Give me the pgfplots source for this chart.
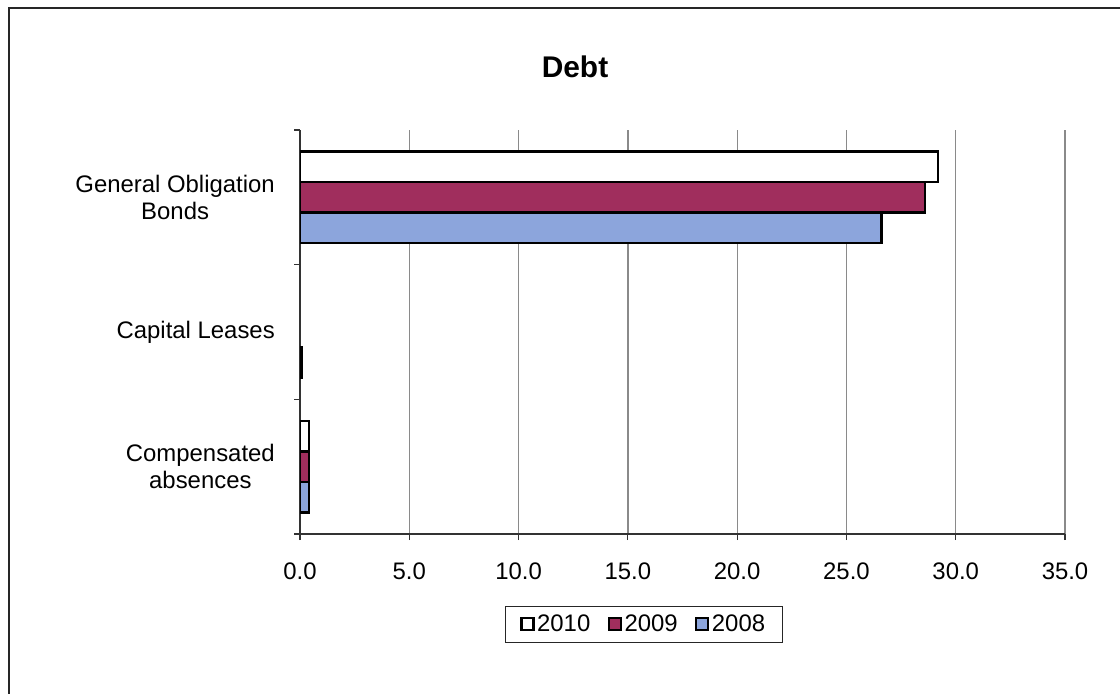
\documentclass[border=0pt]{standalone}
\usepackage{pgfplots}
\pgfplotsset{compat=1.18}
\usepackage{fontspec}
\setmainfont{Liberation Sans}

\definecolor{bar2009}{HTML}{A02E5D}
\definecolor{bar2008}{HTML}{8CA5DC}
\definecolor{gridgray}{HTML}{8A8A8A}

\begin{document}
\begin{tikzpicture}[x=1bp,y=1bp]
\useasboundingbox (0,0) rectangle (1120,-694);
% page frame (top and left edges)
\draw[line width=2bp, black!85] (9,-694) -- (9,-8.5) -- (1120,-8.5);

\node[anchor=base, font=\fontsize{30}{36}\selectfont\bfseries] at (575,-78) {Debt};

\begin{axis}[
  at={(300bp,-534bp)}, anchor=south west,
  scale only axis, width=765bp, height=404bp,
  xmin=0, xmax=35, ymin=-0.5, ymax=2.5,
  xbar, bar width=0.225,
  axis x line*=bottom, axis y line*=left,
  axis line style={line width=1.3bp, black!80},
  xtick={0,5,...,35},
  xmajorgrids, grid style={gridgray, line width=1.3bp},
  ytick={0,1,2},
  yticklabels={Compensated\\absences, Capital Leases, General Obligation\\Bonds},
  minor ytick={-0.5,0.5,1.5,2.5},
  tick align=outside, major tick length=6bp, minor tick length=6bp,
  every major y tick/.append style={draw=none},
  tick style={line width=1.2bp, black!80},
  /pgf/number format/.cd, fixed, fixed zerofill, precision=1, assume math mode=true,
  /pgfplots/.cd,
  xticklabel style={font=\fontsize{24}{28}\selectfont, inner sep=0bp, yshift=-23bp},
  yticklabel style={font=\fontsize{24}{27}\selectfont, align=center, inner sep=0bp, xshift=-19bp},
  legend columns=-1,
  legend style={at={(0.4497,-0.2233)}, anchor=center,
    draw=black!85, line width=1.2bp,
    font=\fontsize{24}{28}\selectfont,
    inner xsep=15bp, inner ysep=6.5bp,
    nodes={inner sep=2.5bp},
    /tikz/every even column/.append style={column sep=15bp}},
  legend image code/.code={\draw[#1, draw=black, line width=2.2bp] (0bp,-6bp) rectangle (12bp,6bp);},
]
\addplot[fill=white, draw=black, line width=2.5bp, bar shift=0.228]
  coordinates {(29.2,2) (0.42,0)};
\addplot[fill=bar2009, draw=black, line width=2.5bp, bar shift=0]
  coordinates {(28.6,2) (0.42,0)};
\addplot[fill=bar2008, draw=black, line width=2.5bp, bar shift=-0.228]
  coordinates {(26.6,2) (0.1,1) (0.42,0)};
\legend{2010,2009,2008}
\end{axis}
\end{tikzpicture}
\end{document}
